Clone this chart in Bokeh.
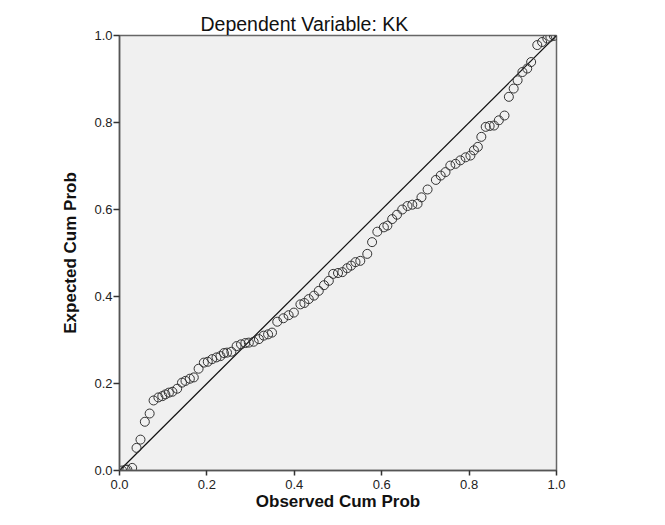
from bokeh.plotting import figure
from bokeh.models import Range1d, FixedTicker, Title
from bokeh.embed import file_html
from bokeh.resources import INLINE

observed_cum_prob = [0.006, 0.014, 0.018, 0.029, 0.039, 0.048, 0.058, 0.069, 0.078, 0.089,
                     0.098, 0.105, 0.113, 0.121, 0.132, 0.143, 0.151, 0.161, 0.170, 0.181,
                     0.193, 0.202, 0.212, 0.222, 0.231, 0.239, 0.246, 0.256, 0.268, 0.278,
                     0.288, 0.296, 0.307, 0.319, 0.330, 0.340, 0.349, 0.361, 0.375, 0.387,
                     0.399, 0.414, 0.423, 0.433, 0.445, 0.456, 0.468, 0.479, 0.489, 0.500,
                     0.510, 0.521, 0.530, 0.540, 0.551, 0.567, 0.578, 0.590, 0.605, 0.613,
                     0.624, 0.635, 0.647, 0.659, 0.670, 0.682, 0.691, 0.705, 0.724, 0.735,
                     0.746, 0.757, 0.769, 0.780, 0.792, 0.803, 0.811, 0.820, 0.828, 0.838,
                     0.847, 0.857, 0.868, 0.881, 0.891, 0.902, 0.911, 0.922, 0.933, 0.942,
                     0.956, 0.967, 0.979, 0.986, 0.994]
expected_cum_prob = [0.000, 0.002, 0.002, 0.006, 0.052, 0.071, 0.112, 0.131, 0.161, 0.168,
                     0.171, 0.175, 0.179, 0.181, 0.188, 0.202, 0.206, 0.211, 0.214, 0.234,
                     0.248, 0.250, 0.256, 0.260, 0.263, 0.270, 0.271, 0.273, 0.286, 0.290,
                     0.293, 0.294, 0.296, 0.302, 0.310, 0.313, 0.317, 0.342, 0.350, 0.357,
                     0.363, 0.382, 0.385, 0.394, 0.402, 0.413, 0.426, 0.436, 0.452, 0.454,
                     0.456, 0.465, 0.471, 0.479, 0.482, 0.498, 0.525, 0.549, 0.559, 0.563,
                     0.578, 0.588, 0.600, 0.608, 0.611, 0.613, 0.628, 0.646, 0.668, 0.678,
                     0.686, 0.701, 0.705, 0.713, 0.720, 0.724, 0.736, 0.744, 0.767, 0.790,
                     0.792, 0.793, 0.805, 0.816, 0.859, 0.878, 0.897, 0.916, 0.924, 0.939,
                     0.978, 0.985, 0.993, 0.997, 0.999]
reference_x = [0.0, 1.0]
reference_y = [0.0, 1.0]
tick_values = [0.0, 0.2, 0.4, 0.6, 0.8, 1.0]
tick_labels = {0.0: "0.0", 0.2: "0.2", 0.4: "0.4", 0.6: "0.6", 0.8: "0.8", 1.0: "1.0"}

FONT = "Liberation Sans"

p = figure(frame_width=437, frame_height=435, output_backend="svg", toolbar_location=None,
           x_range=Range1d(0, 1), y_range=Range1d(0, 1),
           min_border_left=119, min_border_right=50, min_border_top=35, min_border_bottom=39,
           background_fill_color="#f0f0f0", border_fill_color="white")

p.title = Title(text="Dependent Variable: KK", align="left", offset=81,
                text_font=FONT, text_font_size="19.5px", text_font_style="normal",
                text_color="#111111", standoff=2)

p.outline_line_color = "#666666"
p.outline_line_width = 1.5
p.xgrid.visible = False
p.ygrid.visible = False

for ax in (p.xaxis[0], p.yaxis[0]):
    ax.ticker = FixedTicker(ticks=tick_values)
    ax.major_label_overrides = tick_labels
    ax.minor_tick_line_color = None
    ax.major_tick_in = 0
    ax.major_tick_out = 6
    ax.major_tick_line_color = "#333333"
    ax.major_tick_line_width = 1.5
    ax.axis_line_color = "#555555"
    ax.axis_line_width = 1.5
    ax.major_label_text_font = FONT
    ax.major_label_text_font_size = "13px"
    ax.major_label_text_color = "#222222"
    ax.axis_label_text_font = FONT
    ax.axis_label_text_font_size = "17px"
    ax.axis_label_text_font_style = "bold"
    ax.axis_label_text_color = "#111111"

p.xaxis.axis_label = "Observed Cum Prob"
p.yaxis.axis_label = "Expected Cum Prob"
p.xaxis.major_label_standoff = 4
p.xaxis.major_tick_out = 5
p.xaxis.axis_label_standoff = 0
p.yaxis.major_label_standoff = 1
p.yaxis.axis_label_standoff = 11

p.line(reference_x, reference_y, line_color="#111111", line_width=1.2)
p.scatter(observed_cum_prob, expected_cum_prob, marker="circle", size=9,
          fill_color=None, line_color="#333333", line_width=1)

open("out.html", "w").write(file_html(p, INLINE))
